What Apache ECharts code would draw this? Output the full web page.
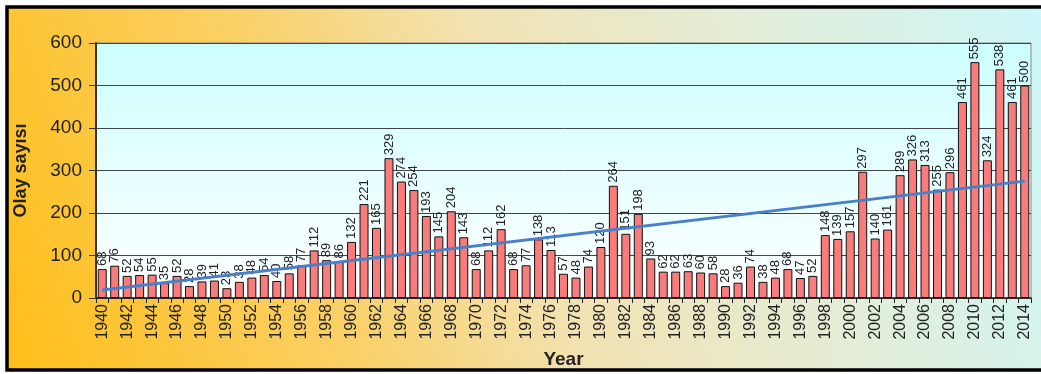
<!DOCTYPE html>
<html>
<head>
<meta charset="utf-8">
<script src="https://cdn.jsdelivr.net/npm/echarts@6/dist/echarts.min.js"></script>
<style>
  html, body { margin: 0; padding: 0; background: #fff; }
  #chart { width: 1041px; height: 374px; }
</style>
</head>
<body>
<div id="chart"></div>
<script>
// yillar
var years = [];
for (var y = 1940; y <= 2014; y++) years.push(String(y));

// olay sayilari
var counts = [
  68, 76, 52, 54, 55, 35, 52, 28, 39, 41,
  23, 38, 48, 54, 40, 58, 77, 112, 89, 86,
  132, 221, 165, 329, 274, 254, 193, 145, 204, 143,
  68, 112, 162, 68, 77, 138, 113, 57, 48, 74,
  120, 264, 151, 198, 93, 62, 62, 63, 60, 58,
  28, 36, 74, 38, 48, 68, 47, 52, 148, 139,
  157, 297, 140, 161, 289, 326, 313, 255, 296, 461,
  555, 324, 538, 461, 500
];

// trend cizgisi: sadece uc noktalar okunuyor
var trendStart = 19, trendEnd = 275;
var trend = years.map(function (d, i) {
  if (i === 0) return trendStart;
  if (i === years.length - 1) return trendEnd;
  return null;
});

var yTicks = [0, 100, 200, 300, 400, 500, 600];

var font = 'Liberation Sans, Arial, sans-serif';
var chart = echarts.init(document.getElementById('chart'));

var option = {
  animation: false,
  textStyle: { fontFamily: font },
  graphic: [
    {
      type: 'rect', z: -10, silent: true,
      shape: { x: 7, y: 7, width: 1040, height: 363 },
      style: {
        fill: new echarts.graphic.LinearGradient(0, 1, 1, 0, [
          { offset: 0, color: '#FFBE18' },
          { offset: 0.3, color: '#FAD066' },
          { offset: 0.5, color: '#F2E2B2' },
          { offset: 0.75, color: '#E2EEDA' },
          { offset: 1, color: '#CCF7FA' }
        ]),
        stroke: '#000',
        lineWidth: 3.5
      }
    }
  ],
  grid: {
    left: 96, right: 10, top: 43, bottom: 76,
    outerBoundsMode: 'none',
    show: true,
    backgroundColor: new echarts.graphic.LinearGradient(0, 0, 0, 1, [
      { offset: 0, color: '#CCFEFF' },
      { offset: 1, color: '#FFFFFF' }
    ]),
    borderColor: '#888',
    borderWidth: 1
  },
  xAxis: {
    type: 'category',
    data: years,
    name: 'Year',
    nameLocation: 'middle',
    nameGap: 52,
    nameMoveOverlap: false,
    nameTextStyle: { fontSize: 19, fontWeight: 'bold', color: '#222' },
    axisLine: { lineStyle: { color: '#222', width: 1.5 } },
    axisTick: { show: true, interval: 0, length: 5, lineStyle: { color: '#222' } },
    axisLabel: { interval: 1, rotate: 90, fontSize: 16, color: '#222', margin: 6 }
  },
  yAxis: {
    type: 'value',
    min: yTicks[0],
    max: yTicks[yTicks.length - 1],
    interval: 100,
    name: 'Olay sayısı',
    nameLocation: 'middle',
    nameRotate: 90,
    nameGap: 66,
    nameMoveOverlap: false,
    nameTextStyle: { fontSize: 18, fontWeight: 'bold', color: '#222' },
    axisLine: { show: true, lineStyle: { color: '#333', width: 2 } },
    axisTick: { show: true, length: 7, lineStyle: { color: '#333' } },
    axisLabel: { fontSize: 19, color: '#222', margin: 14 },
    splitLine: { lineStyle: { color: '#444', width: 1 } }
  },
  series: [
    {
      type: 'bar',
      data: counts,
      barCategoryGap: '28%',
      itemStyle: { color: '#F97C7C', borderColor: '#111', borderWidth: 1 },
      label: {
        show: true,
        position: 'top',
        rotate: 90,
        align: 'left',
        verticalAlign: 'middle',
        distance: 3,
        fontSize: 13,
        color: '#222'
      }
    },
    {
      type: 'line',
      data: trend,
      connectNulls: true,
      symbol: 'none',
      lineStyle: { color: '#4A7FC9', width: 3 },
      z: 5
    }
  ]
};

chart.setOption(option);
</script>
</body>
</html>
